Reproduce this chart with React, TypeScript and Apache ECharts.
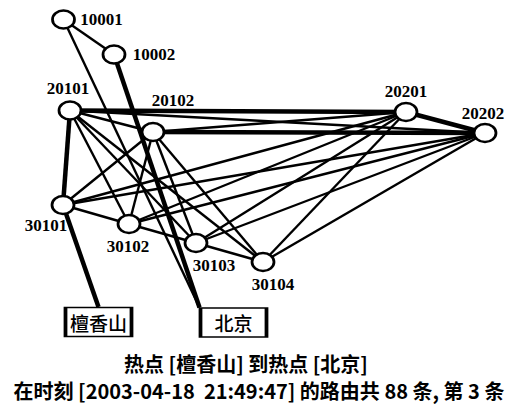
import React, { useEffect, useRef } from "react";
import * as echarts from "echarts";

// ---- data ----
const nodeNames = ["10001", "10002", "20101", "20102", "20201", "20202", "30101", "30102", "30103", "30104", "檀香山", "北京"];
const nodeX = [63.5, 114, 70, 153, 406, 485, 63, 129, 196, 263, 98.5, 199.5];
const nodeY = [19.5, 54.5, 110.5, 132, 112, 133, 205, 224, 243, 262, 307, 307.5];

const thinLinks: [string, string][] = [
  ["10001", "10002"],
  ["10001", "北京"],
  ["20101", "20102"],
  ["20101", "20202"],
  ["20102", "20201"],
  ["20101", "30102"],
  ["20101", "30103"],
  ["20101", "30104"],
  ["20102", "30101"],
  ["20102", "30102"],
  ["20102", "30103"],
  ["20102", "30104"],
  ["20201", "30101"],
  ["20201", "30102"],
  ["20201", "30103"],
  ["20201", "30104"],
  ["20202", "30101"],
  ["20202", "30102"],
  ["20202", "30103"],
  ["20202", "30104"],
  ["30101", "30102"],
  ["30102", "30103"],
  ["30103", "30104"],
];
const thickLinks: [string, string][] = [
  ["10002", "北京"],
  ["20101", "20201"],
  ["20102", "20202"],
  ["20201", "20202"],
  ["20101", "30101"],
  ["30101", "檀香山"],
];

const titleLine1 = "热点 [檀香山] 到热点 [北京]";
const titleLine2 = "在时刻 [2003-04-18\u00a0\u00a021:49:47] 的路由共 88 条, 第 3 条";

// ---- style (label offsets relative to node centre) ----
const labelOffsets: Record<string, [number, number]> = {
  "10001": [38, 0],
  "10002": [40, 0],
  "20101": [-2, -22],
  "20102": [20, -32],
  "20201": [0, -21],
  "20202": [-2, -20],
  "30101": [-17, 20],
  "30102": [-1, 22],
  "30103": [18, 22],
  "30104": [10, 22],
};
const boxOffsets: Record<string, [number, number]> = {
  "檀香山": [0, 15],
  "北京": [34, 15],
};

const ELLIPSE = "path://M0,10 A10,10 0 1,1 20,10 A10,10 0 1,1 0,10 Z";

export default function App() {
  const ref = useRef<HTMLDivElement>(null);
  useEffect(() => {
    document.body.style.margin = "0";
    const chart = echarts.init(ref.current!, null, { renderer: "svg" });
    const data = nodeNames.map((name, i) => {
      const isBox = boxOffsets[name] !== undefined;
      if (isBox) {
        return {
          name,
          value: [nodeX[i], nodeY[i]],
          symbol: "rect",
          symbolSize: [66, 29],
          symbolOffset: boxOffsets[name],
          itemStyle: { color: "#fff", borderColor: "#000", borderWidth: 2.5 },
          label: {
            show: true,
            position: "inside",
            formatter: name,
            fontFamily: "Noto Sans CJK SC",
            fontSize: 19,
            fontWeight: 500,
            color: "#000",
          },
        };
      }
      return {
        name,
        value: [nodeX[i], nodeY[i]],
        symbol: ELLIPSE,
        symbolSize: [22, 18],
        itemStyle: { color: "#fff", borderColor: "#000", borderWidth: 2.5 },
        label: {
          show: true,
          position: "inside",
          offset: labelOffsets[name],
          align: "center",
          verticalAlign: "middle",
          formatter: name,
          fontFamily: "Liberation Serif",
          fontSize: 17,
          fontWeight: "bold",
          color: "#000",
        },
      };
    });
    const links = [
      ...thinLinks.map(([s, t]) => ({ source: s, target: t, lineStyle: { width: 2.4 } })),
      ...thickLinks.map(([s, t]) => ({ source: s, target: t, lineStyle: { width: 4.5 } })),
    ];
    chart.setOption({
      animation: false,
      backgroundColor: "#fff",
      grid: { left: 0, right: 0, top: 0, bottom: 0 },
      xAxis: { type: "value", min: 0, max: 509, show: false },
      yAxis: { type: "value", min: 0, max: 404, inverse: true, show: false },
      graphic: [
        {
          type: "text",
          x: 246,
          y: 363,
          style: {
            text: titleLine1,
            font: "bold 20px 'Noto Sans CJK SC'",
            lineHeight: 20,
            fill: "#000",
            align: "center",
            verticalAlign: "middle",
          },
        },
        {
          type: "text",
          x: 259,
          y: 390,
          style: {
            text: titleLine2,
            font: "bold 20px 'Noto Sans CJK SC'",
            lineHeight: 20,
            fill: "#000",
            align: "center",
            verticalAlign: "middle",
          },
        },
      ],
      series: [
        {
          type: "graph",
          coordinateSystem: "cartesian2d",
          layout: "none",
          data,
          links,
          edgeSymbol: ["none", "none"],
          lineStyle: { color: "#000", opacity: 1, curveness: 0 },
          emphasis: { disabled: true },
        },
      ],
    });
    return () => chart.dispose();
  }, []);
  return <div ref={ref} style={{ width: 509, height: 404 }} />;
}
